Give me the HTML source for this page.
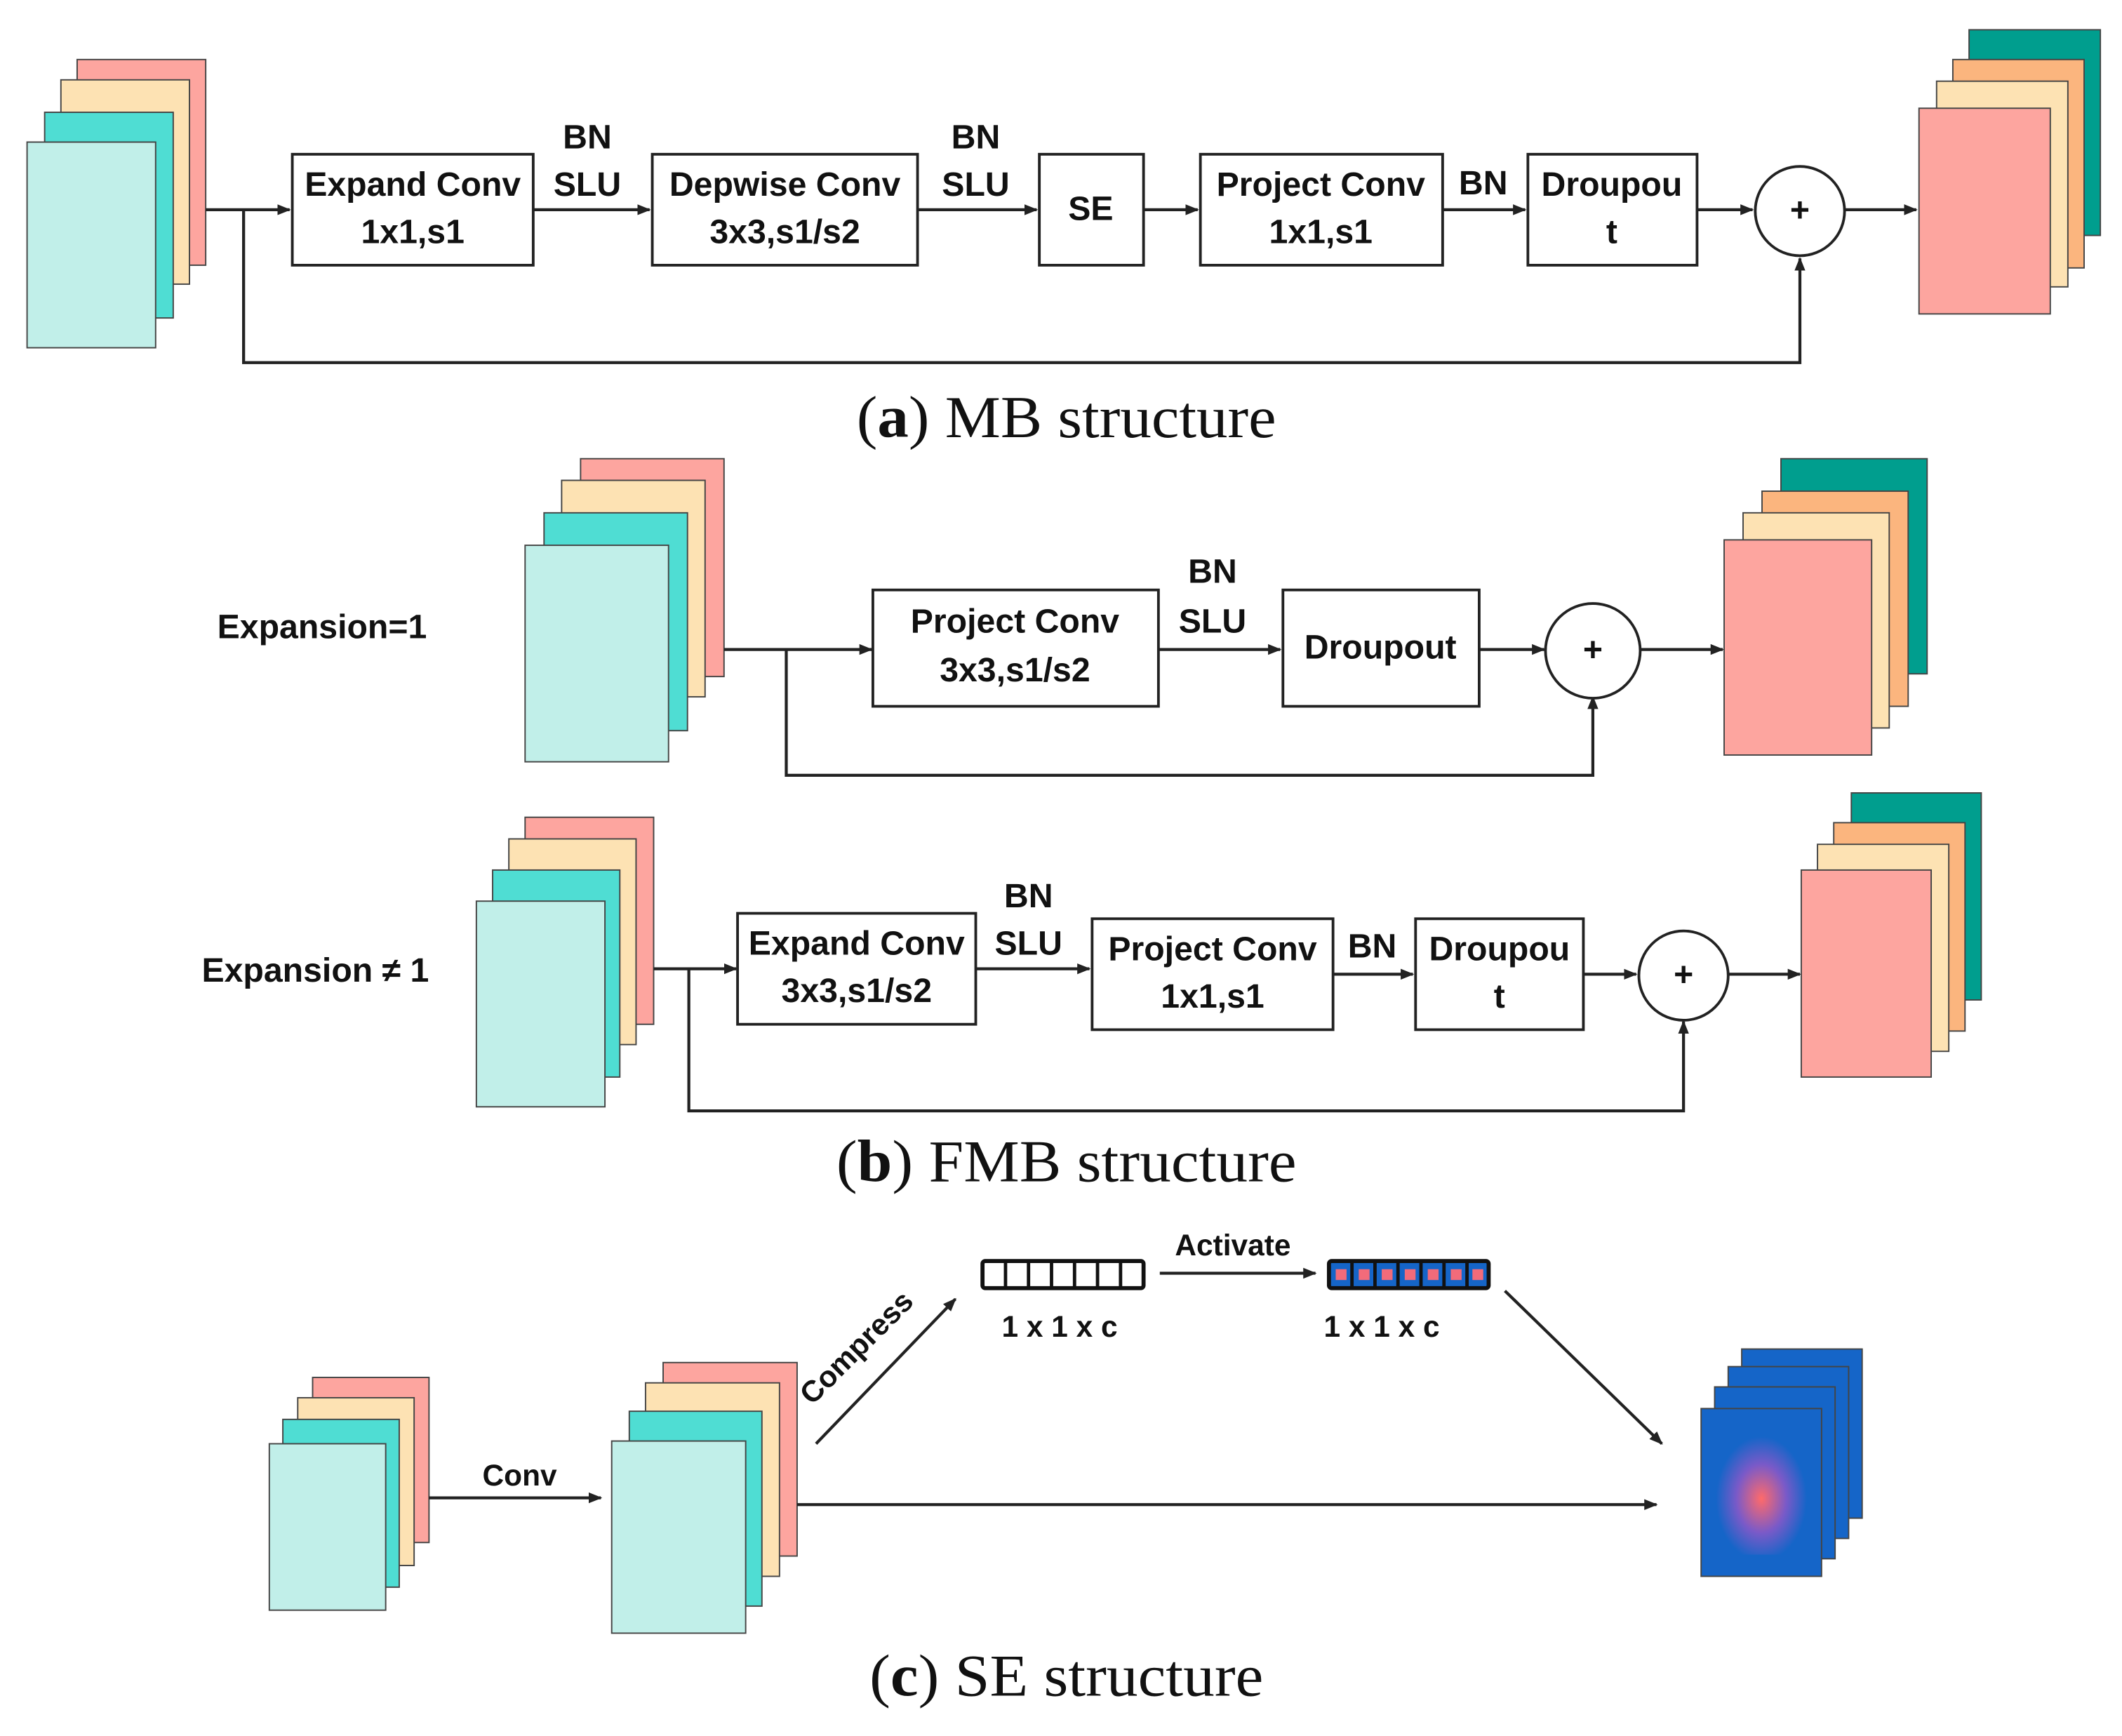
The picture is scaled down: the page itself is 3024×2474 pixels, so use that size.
<!DOCTYPE html>
<html><head><meta charset="utf-8"><style>
html,body{margin:0;padding:0;background:#fff;}
svg{display:block;}
.t{font-family:"Liberation Sans","Noto Sans CJK SC",sans-serif;font-weight:bold;font-size:25px;fill:#111;text-anchor:middle;dominant-baseline:middle;}
.cap{font-family:"Liberation Serif",serif;font-size:44px;fill:#111;text-anchor:middle;dominant-baseline:middle;}
.b{fill:#fff;stroke:#222;stroke-width:2;}
.l{stroke:#222;stroke-width:2.2;fill:none;}
.s{stroke:#444;stroke-width:1;}
</style></head><body>
<svg width="3024" height="2474" viewBox="0 0 1568 1283" preserveAspectRatio="none" xmlns="http://www.w3.org/2000/svg">
<defs>
<marker id="a" markerWidth="10" markerHeight="10" refX="9" refY="5" orient="auto" markerUnits="userSpaceOnUse"><path d="M0,1 L10,5 L0,9 Z" fill="#222"/></marker>
<radialGradient id="g" cx="0.5" cy="0.55" r="0.5"><stop offset="0" stop-color="#ff6a6a"/><stop offset="0.55" stop-color="#7a5ac8"/><stop offset="1" stop-color="#1565c8"/></radialGradient>
</defs>
<!-- (a) -->
<g class="s">
<rect x="57" y="44" width="95" height="152" fill="#fda59f"/>
<rect x="45" y="59" width="95" height="151" fill="#fde2b3"/>
<rect x="33" y="83" width="95" height="152" fill="#4fddd3"/>
<rect x="20" y="105" width="95" height="152" fill="#c1efe9"/>
<rect x="1455" y="22" width="97" height="152" fill="#009e8e"/>
<rect x="1443" y="44" width="97" height="154" fill="#fbb57e"/>
<rect x="1431" y="60" width="97" height="152" fill="#fde2b3"/>
<rect x="1418" y="80" width="97" height="152" fill="#fda59f"/>
</g>
<path class="l" d="M152,155 H214" marker-end="url(#a)"/>
<path class="l" d="M180,155 V268 H1330 V191" marker-end="url(#a)"/>
<rect class="b" x="216" y="114" width="178" height="82"/>
<text class="t" x="305" y="138">Expand Conv</text><text class="t" x="305" y="173">1x1,s1</text>
<text class="t" x="434" y="103">BN</text><text class="t" x="434" y="138">SLU</text>
<path class="l" d="M394,155 H480" marker-end="url(#a)"/>
<rect class="b" x="482" y="114" width="196" height="82"/>
<text class="t" x="580" y="138">Depwise Conv</text><text class="t" x="580" y="173">3x3,s1/s2</text>
<text class="t" x="721" y="103">BN</text><text class="t" x="721" y="138">SLU</text>
<path class="l" d="M678,155 H766" marker-end="url(#a)"/>
<rect class="b" x="768" y="114" width="77" height="82"/>
<text class="t" x="806" y="156">SE</text>
<path class="l" d="M845,155 H885" marker-end="url(#a)"/>
<rect class="b" x="887" y="114" width="179" height="82"/>
<text class="t" x="976" y="138">Project Conv</text><text class="t" x="976" y="173">1x1,s1</text>
<text class="t" x="1096" y="137">BN</text>
<path class="l" d="M1066,155 H1127" marker-end="url(#a)"/>
<rect class="b" x="1129" y="114" width="125" height="82"/>
<text class="t" x="1191" y="138">Droupou</text><text class="t" x="1191" y="173">t</text>
<path class="l" d="M1254,155 H1295" marker-end="url(#a)"/>
<circle class="b" cx="1330" cy="156" r="33"/><text class="t" x="1330" y="157">+</text>
<path class="l" d="M1363,155 H1416" marker-end="url(#a)"/>
<text class="cap" x="788" y="313" textLength="310" lengthAdjust="spacingAndGlyphs">(<tspan font-weight="bold">a</tspan>) MB structure</text>
<!-- (b1) -->
<text class="t" x="238" y="465">Expansion=1</text>
<g class="s">
<rect x="429" y="339" width="106" height="161" fill="#fda59f"/>
<rect x="415" y="355" width="106" height="160" fill="#fde2b3"/>
<rect x="402" y="379" width="106" height="161" fill="#4fddd3"/>
<rect x="388" y="403" width="106" height="160" fill="#c1efe9"/>
<rect x="1316" y="339" width="108" height="159" fill="#009e8e"/>
<rect x="1302" y="363" width="108" height="159" fill="#fbb57e"/>
<rect x="1288" y="379" width="108" height="159" fill="#fde2b3"/>
<rect x="1274" y="399" width="109" height="159" fill="#fda59f"/>
</g>
<path class="l" d="M535,480 H644" marker-end="url(#a)"/>
<path class="l" d="M581,480 V573 H1177 V515" marker-end="url(#a)"/>
<rect class="b" x="645" y="436" width="211" height="86"/>
<text class="t" x="750" y="461">Project Conv</text><text class="t" x="750" y="497">3x3,s1/s2</text>
<text class="t" x="896" y="424">BN</text><text class="t" x="896" y="461">SLU</text>
<path class="l" d="M856,480 H946" marker-end="url(#a)"/>
<rect class="b" x="948" y="436" width="145" height="86"/>
<text class="t" x="1020" y="480">Droupout</text>
<path class="l" d="M1093,480 H1141" marker-end="url(#a)"/>
<circle class="b" cx="1177" cy="481" r="35"/><text class="t" x="1177" y="482">+</text>
<path class="l" d="M1212,480 H1273" marker-end="url(#a)"/>
<!-- (b2) -->
<text class="t" x="233" y="719">Expansion ≠ 1</text>
<g class="s">
<rect x="388" y="604" width="95" height="153" fill="#fda59f"/>
<rect x="376" y="620" width="94" height="152" fill="#fde2b3"/>
<rect x="364" y="643" width="94" height="153" fill="#4fddd3"/>
<rect x="352" y="666" width="95" height="152" fill="#c1efe9"/>
<rect x="1368" y="586" width="96" height="153" fill="#009e8e"/>
<rect x="1355" y="608" width="97" height="154" fill="#fbb57e"/>
<rect x="1343" y="624" width="97" height="153" fill="#fde2b3"/>
<rect x="1331" y="643" width="96" height="153" fill="#fda59f"/>
</g>
<path class="l" d="M483,716 H544" marker-end="url(#a)"/>
<path class="l" d="M509,716 V821 H1244 V755" marker-end="url(#a)"/>
<rect class="b" x="545" y="675" width="176" height="82"/>
<text class="t" x="633" y="699">Expand Conv</text><text class="t" x="633" y="734">3x3,s1/s2</text>
<text class="t" x="760" y="664">BN</text><text class="t" x="760" y="699">SLU</text>
<path class="l" d="M721,716 H805" marker-end="url(#a)"/>
<rect class="b" x="807" y="679" width="178" height="82"/>
<text class="t" x="896" y="703">Project Conv</text><text class="t" x="896" y="738">1x1,s1</text>
<text class="t" x="1014" y="701">BN</text>
<path class="l" d="M985,720 H1044" marker-end="url(#a)"/>
<rect class="b" x="1046" y="679" width="124" height="82"/>
<text class="t" x="1108" y="703">Droupou</text><text class="t" x="1108" y="738">t</text>
<path class="l" d="M1170,720 H1209" marker-end="url(#a)"/>
<circle class="b" cx="1244" cy="721" r="33"/><text class="t" x="1244" y="722">+</text>
<path class="l" d="M1277,720 H1330" marker-end="url(#a)"/>
<text class="cap" x="788" y="863" textLength="340" lengthAdjust="spacingAndGlyphs">(<tspan font-weight="bold">b</tspan>) FMB structure</text>
<!-- (c) -->
<g class="s">
<rect x="231" y="1018" width="86" height="122" fill="#fda59f"/>
<rect x="220" y="1033" width="86" height="124" fill="#fde2b3"/>
<rect x="209" y="1049" width="86" height="124" fill="#4fddd3"/>
<rect x="199" y="1067" width="86" height="123" fill="#c1efe9"/>
<rect x="490" y="1007" width="99" height="143" fill="#fda59f"/>
<rect x="477" y="1022" width="99" height="143" fill="#fde2b3"/>
<rect x="465" y="1043" width="98" height="144" fill="#4fddd3"/>
<rect x="452" y="1065" width="99" height="142" fill="#c1efe9"/>
<rect x="1287" y="997" width="89" height="125" fill="#1565c8"/>
<rect x="1277" y="1010" width="89" height="127" fill="#1565c8"/>
<rect x="1267" y="1025" width="89" height="127" fill="#1565c8"/>
<rect x="1257" y="1041" width="89" height="124" fill="#1565c8"/>
</g>
<rect x="1268" y="1057" width="67" height="92" fill="url(#g)"/>
<text class="t" x="384" y="1092" style="font-size:22px">Conv</text>
<path class="l" d="M317,1107 H444" marker-end="url(#a)"/>
<path class="l" d="M589,1112 H1224" marker-end="url(#a)"/>
<path class="l" d="M603,1067 L706,960" marker-end="url(#a)"/>
<text class="t" x="634" y="997" style="font-size:22px" transform="rotate(-45 634 997)">Compress</text>
<rect x="726" y="932" width="119" height="20" fill="#fff" stroke="#111" stroke-width="3" rx="2"/>
<g stroke="#111" stroke-width="2.5">
<line x1="743" y1="932" x2="743" y2="952"/><line x1="760" y1="932" x2="760" y2="952"/><line x1="777" y1="932" x2="777" y2="952"/><line x1="794" y1="932" x2="794" y2="952"/><line x1="811" y1="932" x2="811" y2="952"/><line x1="828" y1="932" x2="828" y2="952"/>
</g>
<text class="t" x="783" y="982" style="font-size:22px">1 x 1 x c</text>
<text class="t" x="911" y="922" style="font-size:22px">Activate</text>
<path class="l" d="M857,941 H972" marker-end="url(#a)"/>
<rect x="982" y="932" width="118" height="20" fill="#1565c8" stroke="#111" stroke-width="3" rx="2"/>
<g fill="#f26b7a">
<rect x="987" y="938" width="8" height="8"/><rect x="1004" y="938" width="8" height="8"/><rect x="1021" y="938" width="8" height="8"/><rect x="1038" y="938" width="8" height="8"/><rect x="1055" y="938" width="8" height="8"/><rect x="1072" y="938" width="8" height="8"/><rect x="1088" y="938" width="8" height="8"/>
</g>
<g stroke="#111" stroke-width="2.5">
<line x1="999" y1="932" x2="999" y2="952"/><line x1="1016" y1="932" x2="1016" y2="952"/><line x1="1033" y1="932" x2="1033" y2="952"/><line x1="1050" y1="932" x2="1050" y2="952"/><line x1="1067" y1="932" x2="1067" y2="952"/><line x1="1084" y1="932" x2="1084" y2="952"/>
</g>
<text class="t" x="1021" y="982" style="font-size:22px">1 x 1 x c</text>
<path class="l" d="M1112,954 L1228,1067" marker-end="url(#a)"/>
<text class="cap" x="788" y="1243" textLength="291" lengthAdjust="spacingAndGlyphs">(<tspan font-weight="bold">c</tspan>) SE structure</text>
</svg>
</body></html>
